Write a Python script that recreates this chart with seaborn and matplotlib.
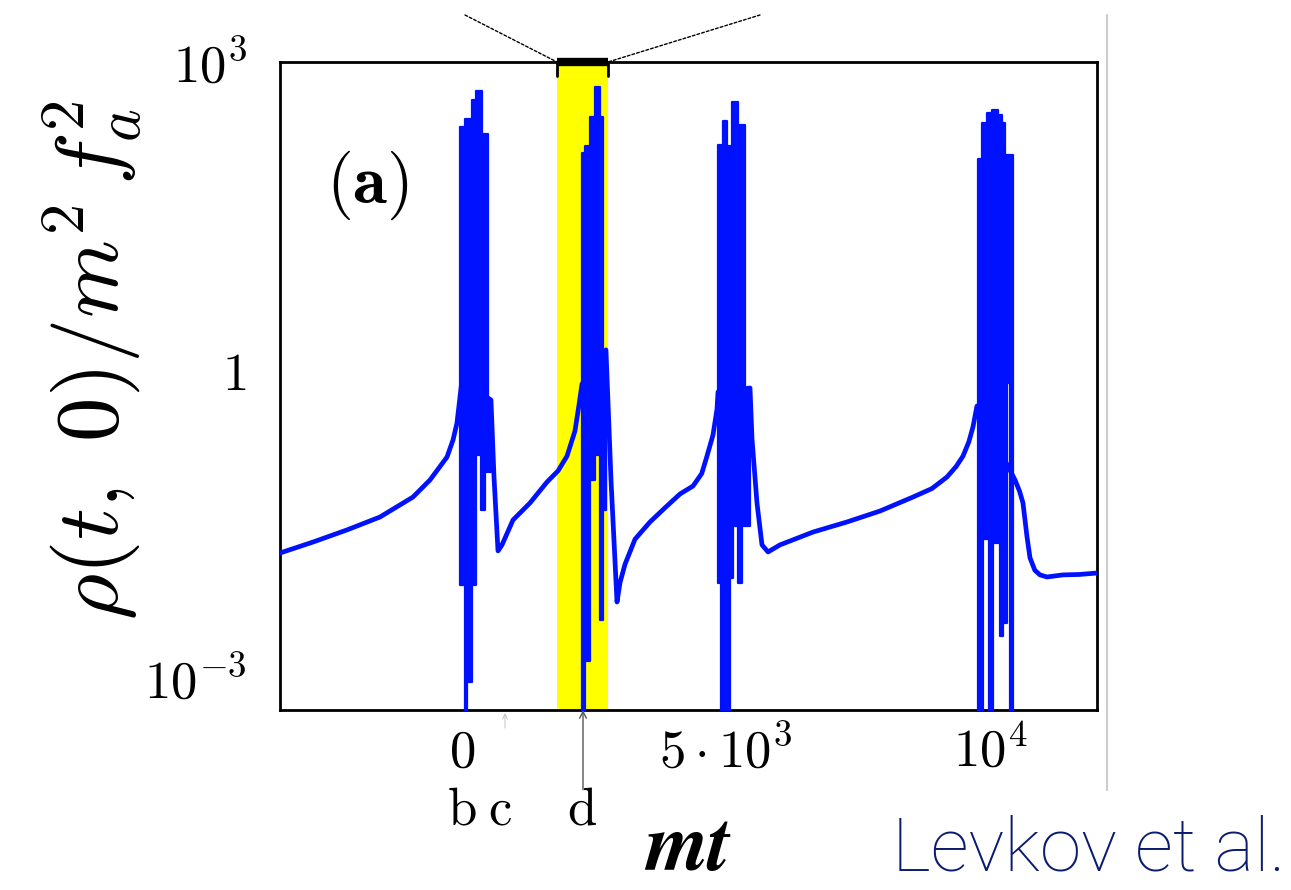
import matplotlib
matplotlib.use("Agg")
import matplotlib.pyplot as plt
from matplotlib.lines import Line2D
from matplotlib import transforms
import seaborn as sns
import pandas as pd

# ---------------- data ----------------
# smooth part of rho(t,0) between the bursts
t_line = [-3447, -2822, -2178, -1553, -928, -606, -284, -170, -95, -38, 0,
          549, 606, 682, 758, 966, 1288, 1610, 1818, 1989, 2140, 2216, 2273,
          2727, 2822, 2936, 2993, 3087, 3277, 3561, 3845, 4129, 4375, 4540, 4640, 4754, 4830, 4849,
          5455, 5493, 5587, 5682, 5796, 6023, 6648, 7292, 7917, 8542, 8900, 9186, 9360, 9489, 9600, 9678, 9754,
          10474, 10560, 10625, 10700, 10758, 10850, 10947, 11080, 11383, 11700, 11989, 12027]
rho_line = [0.0165, 0.0211, 0.0277, 0.0370, 0.0579, 0.0849, 0.142, 0.208, 0.305, 0.546, 0.80,
            0.51, 0.0908, 0.0173, 0.0198, 0.0346, 0.0507, 0.0811, 0.104, 0.145, 0.255, 0.456, 0.731,
            1.57, 0.0849, 0.0055, 0.0085, 0.0128, 0.0225, 0.0331, 0.0455, 0.062, 0.0741, 0.098, 0.145, 0.233, 0.417, 0.611,
            0.668, 0.213, 0.0507, 0.0198, 0.0169, 0.0198, 0.0264, 0.0331, 0.0423, 0.0579, 0.070, 0.0908, 0.115, 0.145, 0.200, 0.279, 0.446,
            0.0849, 0.066, 0.0507, 0.024, 0.0148, 0.0112, 0.0101, 0.00964, 0.0101, 0.0102, 0.0105, 0.0105]

# oscillating bursts: edges of intervals, upper and lower envelopes per interval
b1_t = [-38, 57, 95, 189, 265, 360, 379, 436, 492, 549]
b1_hi = [233, 279, 279, 426, 522, 522, 199, 199, 0.51]
b1_lo = [0.0081, 1e-4, 0.00091, 0.0081, 0.149, 0.0433, 0.0433, 0.102, 0.102]

b2_t = [2273, 2330, 2424, 2519, 2614, 2671, 2727]
b2_hi = [130, 152, 291, 571, 291, 1.57]
b2_lo = [1e-4, 0.00147, 0.085, 0.149, 0.00367, 0.0433]

b3_t = [4849, 4905, 4943, 5019, 5076, 5114, 5133, 5227, 5303, 5360, 5455]
b3_hi = [155, 155, 266, 152, 152, 408, 408, 243, 243, 0.668]
b3_lo = [0.0085, 1e-4, 1e-4, 1e-4, 0.0094, 0.0094, 0.0303, 0.0085, 0.0303, 0.0303]

b4_t = [9773, 9849, 9868, 9944, 9981, 10038, 10057, 10152, 10190, 10228, 10247, 10284, 10322, 10379, 10436]
b4_hi = [114, 255, 255, 319, 319, 341, 341, 305, 305, 255, 255, 124, 124, 124]
b4_lo = [1e-4, 1e-4, 0.0226, 0.0226, 1e-4, 1e-4, 0.0207, 0.0207, 0.00257, 0.00257, 0.00343, 0.00343, 0.747, 1e-4]

zoom_window = [1800, 2765]          # highlighted interval (yellow)
x_ticks = [0, 5000, 10000]
x_ticklabels = [r'$0$', r'$5\cdot10^{3}$', r'$10^{4}$']
y_ticks = [1e-3, 1, 1e3]
y_ticklabels = [r'$10^{-3}$', r'$1$', r'$10^{3}$']
marks_t = [0, 720, 2273]
marks_lbl = ['b', 'c', 'd']
x_limits = (-3447, 12027)
y_limits = (4.88e-4, 1e3)

# ---------------- style ----------------
sns.set_style("white")
plt.rcParams['mathtext.fontset'] = 'cm'
plt.rcParams['font.family'] = ['DejaVu Serif']
for k in ['text.color', 'axes.labelcolor', 'xtick.color', 'ytick.color']:
    plt.rcParams[k] = 'black'

BLUE = '#0011ff'
fig = plt.figure(figsize=(12.91, 8.90), dpi=100)
ax = fig.add_axes([280 / 1291, 1 - 710 / 890, 817 / 1291, 648 / 890])

ax.axvspan(zoom_window[0], zoom_window[1], color='#ffff00', zorder=0, lw=0)

df = pd.DataFrame({'t': t_line, 'rho': rho_line})
sns.lineplot(data=df, x='t', y='rho', ax=ax, color=BLUE, lw=3.4,
             estimator=None, sort=False, zorder=3)

for bt, bh, bl in [(b1_t, b1_hi, b1_lo), (b2_t, b2_hi, b2_lo),
                   (b3_t, b3_hi, b3_lo), (b4_t, b4_hi, b4_lo)]:
    ax.fill_between(bt, bl + [bl[-1]], bh + [bh[-1]], step='post',
                    facecolor=BLUE, lw=1.6, edgecolor=BLUE, zorder=3)

ax.set_yscale('log')
ax.set_xlim(*x_limits)
ax.set_ylim(*y_limits)
ax.set_xticks(x_ticks)
ax.set_xticklabels(x_ticklabels)
ax.set_yticks(y_ticks)
ax.set_yticklabels(y_ticklabels)
ax.minorticks_off()
ax.tick_params(axis='both', direction='in', length=7, width=1.2, colors='#333333',
               labelcolor='black', labelsize=38)
ax.tick_params(axis='y', pad=24)
ax.tick_params(axis='x', pad=12)
for s in ax.spines.values():
    s.set_color('black')
    s.set_linewidth(2.0)
    s.set_visible(True)
ax.set_xlabel('')
ax.set_ylabel(r'$\rho(t,\ 0)/m^2\, f_a^2$', fontsize=64, color='black')
ax.yaxis.set_label_coords(-0.165, 0.54)

# black bar marking the zoom window on top of the frame
ax.plot(zoom_window, [y_limits[1]] * 2, color='black', lw=6, solid_capstyle='butt',
        clip_on=False, zorder=5)
for zx in zoom_window:
    ax.plot([zx, zx], [y_limits[1], 7.3e2], color='black', lw=2, clip_on=False, zorder=5)
# dotted connector lines to the (not shown) inset above
for zx, fx in zip(zoom_window, [465 / 1291, 760 / 1291]):
    ax.annotate('', xy=(zx, y_limits[1]), xycoords='data',
                xytext=(fx, 1 - 15 / 890), textcoords='figure fraction',
                arrowprops=dict(arrowstyle='-', ls=(0, (2, 1.5)), lw=1.0, color='black',
                                shrinkA=0, shrinkB=0))

# panel label
ax.text(0.107, 0.81, r'$\mathbf{(a)}$', transform=ax.transAxes, fontsize=50,
        ha='center', va='center', color='black')

# b c d marks under the axis
trans = transforms.blended_transform_factory(ax.transData, ax.transAxes)
for mt_, ml in zip(marks_t, marks_lbl):
    ax.text(mt_, -0.155, r'$\mathrm{%s}$' % ml, transform=trans, fontsize=38,
            ha='center', va='center', color='black')
ax.annotate('', xy=(2292, 0.0), xycoords=trans, xytext=(2292, -0.123), textcoords=trans,
            arrowprops=dict(arrowstyle='->', lw=1.0, color='#555555',
                            shrinkA=0, shrinkB=0, mutation_scale=12))
ax.annotate('', xy=(814, -0.005), xycoords=trans, xytext=(814, -0.028), textcoords=trans,
            arrowprops=dict(arrowstyle='->', lw=0.6, color='#bbbbbb',
                            shrinkA=0, shrinkB=0, mutation_scale=9))

# x label
fig.text(688 / 1291, 1 - 850 / 890, 'mt', fontsize=58, family='STIXGeneral',
         style='italic', weight='bold', ha='center', va='center', color='black')

# separator line and credit
fig.add_artist(Line2D([1107 / 1291] * 2, [1 - 15 / 890, 1 - 790 / 890],
                      transform=fig.transFigure, color='#cccccc', lw=1.5))
fig.text(1286 / 1291, 1 - 850 / 890, 'Levkov et al.', fontsize=54, family='Roboto',
         weight='light', color='#0b1c6e', ha='right', va='center')

fig.savefig('out.png', dpi=100, facecolor='white')
